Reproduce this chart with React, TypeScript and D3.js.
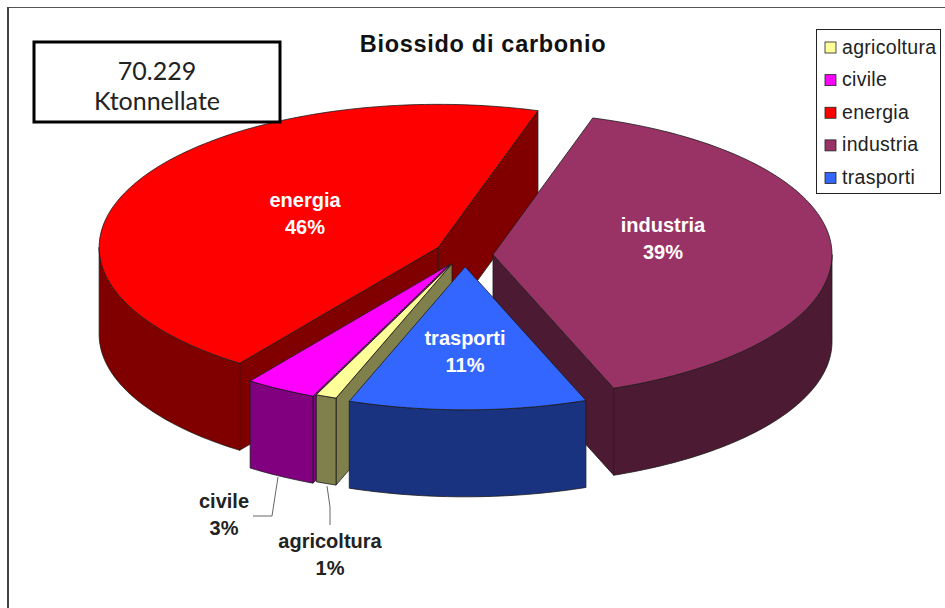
import React from "react";
import * as d3 from "d3";

const categories = ["agricoltura", "civile", "energia", "industria", "trasporti"];
// Sweep of each slice as measured on the drawn ellipse; the printed percentages follow in percentLabels.
const values = [1.0, 3.4, 44.8, 39.45, 11.35];
const percentLabels = ["1%", "3%", "46%", "39%", "11%"];
const explosions = [35, 33, 30, 28, 28];
const lifts = [5, 2, 2, 0, 0];
const topColors = ["#ffff99", "#ff00ff", "#ff0000", "#993366", "#3366ff"];
const sideColors = ["#80804d", "#800080", "#800000", "#4d1a33", "#1a3380"];
const drawOrder = [2, 3, 1, 0, 4];
const titleText = "Biossido di carbonio";
const boxLines = ["70.229", "Ktonnellate"];

const W = 945, H = 608;
const CX = 465, CY = 255, RX = 339, RY = 143, DEPTH = 87;
const START = (200 * Math.PI) / 180;

const angle = d3.scaleLinear().domain([0, d3.sum(values)]).range([START, START + 2 * Math.PI]);
const cum = d3.cumsum(values);

type Slice = { i: number; a0: number; a1: number; ox: number; oy: number };
const slices: Slice[] = values.map((_, i) => {
  const a0 = angle(i === 0 ? 0 : cum[i - 1]);
  const a1 = angle(cum[i]);
  const m = (a0 + a1) / 2;
  return { i, a0, a1, ox: CX + explosions[i] * Math.sin(m), oy: CY - explosions[i] * Math.cos(m) * (RY / RX) - lifts[i] };
});

const pt = (s: Slice, t: number, dy = 0): [number, number] => [s.ox + RX * Math.sin(t), s.oy - RY * Math.cos(t) + dy];
const line = d3.line();

function arcPts(s: Slice, a0: number, a1: number, dy = 0): [number, number][] {
  const n = Math.max(2, Math.ceil(Math.abs(a1 - a0) / 0.02));
  return d3.range(n + 1).map((k) => pt(s, a0 + ((a1 - a0) * k) / n, dy));
}
function topPath(s: Slice) {
  return line([[s.ox, s.oy], ...arcPts(s, s.a0, s.a1)]) + "Z";
}
function wallPath(s: Slice, t: number) {
  const p = pt(s, t), q = pt(s, t, DEPTH);
  return line([[s.ox, s.oy], p, q, [s.ox, s.oy + DEPTH]]) + "Z";
}
// radial walls: only those turned towards the viewer
function visibleWalls(s: Slice): string[] {
  const out: string[] = [];
  if (Math.sin(s.a0) < 0) out.push(wallPath(s, s.a0));
  if (Math.sin(s.a1) > 0) out.push(wallPath(s, s.a1));
  return out;
}
// outer rim: only the part with the parameter in the front half of the ellipse
function rimPaths(s: Slice): string[] {
  const out: string[] = [];
  for (const k of [0, 1, 2]) {
    const lo = Math.max(s.a0, Math.PI / 2 + k * 2 * Math.PI);
    const hi = Math.min(s.a1, (3 * Math.PI) / 2 + k * 2 * Math.PI);
    if (lo < hi) out.push(line([...arcPts(s, lo, hi), ...arcPts(s, hi, lo, DEPTH)]) + "Z");
  }
  return out;
}

const legendX = 816, legendY = 29, legendW = 124, legendH = 164;
const legendRow = d3.scalePoint<string>().domain(categories).range([47.5, 178]);

const labelAnchors: Record<string, [number, number]> = {
  energia: [305, 207],
  industria: [663, 232],
  trasporti: [465, 345],
  civile: [224, 508],
  agricoltura: [330, 548],
};
const leaders: Record<string, [number, number][]> = {
  civile: [[278, 477], [272, 516], [253, 516]],
  agricoltura: [[327, 486], [330, 507], [330, 525]],
};
const SANS = "'Liberation Sans', Arial, sans-serif";

export default function App() {
  return (
    <svg width={W} height={H} viewBox={`0 0 ${W} ${H}`} style={{ position: "absolute", left: 0, top: 0, background: "#fff" }}>
      <line x1={7} x2={W} y1={7.5} y2={7.5} stroke="#555" strokeWidth={1} />
      <line x1={8} x2={8} y1={7} y2={H} stroke="#444" strokeWidth={2} />
      <text x={483} y={52} textAnchor="middle" fontFamily={SANS} fontWeight="bold" fontSize={23.5} letterSpacing={0.7} fill="#111">{titleText}</text>

      {drawOrder.map((i) => {
        const s = slices[i];
        return (
          <g key={categories[i]} stroke="#1a1a1a" strokeWidth={0.8} strokeLinejoin="round">
            {visibleWalls(s).map((d, k) => <path key={k} d={d} fill={sideColors[i]} />)}
            {rimPaths(s).map((d, k) => <path key={k} d={d} fill={sideColors[i]} />)}
            <path d={topPath(s)} fill={topColors[i]} />
          </g>
        );
      })}

      <rect x={34} y={42} width={246} height={80} fill="#fff" stroke="#000" strokeWidth={3} />
      <text x={157} y={80} textAnchor="middle" fontFamily="Lato, sans-serif" fontSize={25} fill="#222">{boxLines[0]}</text>
      <text x={157} y={110} textAnchor="middle" fontFamily="Lato, sans-serif" fontSize={25} fill="#222">{boxLines[1]}</text>

      <rect x={legendX + 0.5} y={legendY + 0.5} width={legendW} height={legendH} fill="#fff" stroke="#222" strokeWidth={1} />
      {categories.map((c, i) => {
        const y = legendRow(c)!;
        return (
          <g key={c}>
            <rect x={825} y={y - 5.5} width={11} height={11} fill={topColors[i]} stroke="#222" strokeWidth={0.8} />
            <text x={842} y={y + 6} fontFamily={SANS} fontSize={19.5} letterSpacing={0.3} fill="#222">{c}</text>
          </g>
        );
      })}

      {Object.entries(leaders).map(([k, pts]) => (
        <path key={k} d={line(pts)!} fill="none" stroke="#666" strokeWidth={1} />
      ))}
      {categories.map((c, i) => {
        const [x, y] = labelAnchors[c];
        const outside = c === "civile" || c === "agricoltura";
        return (
          <text key={c} textAnchor="middle" fontFamily={SANS} fontWeight="bold" fontSize={20} fill={outside ? "#222" : "#fff"}>
            <tspan x={x} y={y}>{c}</tspan>
            <tspan x={x} y={y + 27}>{percentLabels[i]}</tspan>
          </text>
        );
      })}
    </svg>
  );
}
